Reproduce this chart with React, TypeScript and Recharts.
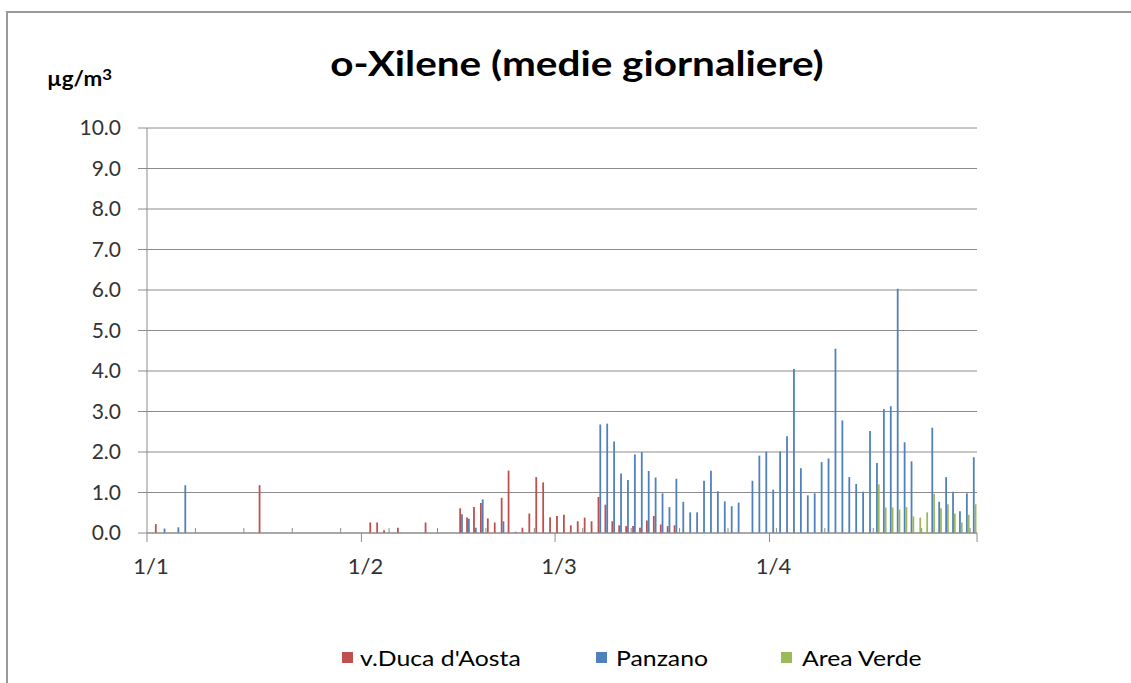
import React from "react";
import { BarChart, Bar, XAxis, YAxis, CartesianGrid } from "recharts";

// giorni dal 1 gennaio (0) al 30 aprile (119)
const days = Array.from({ length: 120 }, (_, i) => i);
const monthStarts = [0, 31, 59, 90];
const monthLabels = ["1/1", "1/2", "1/3", "1/4"];
const yTicks = [0, 1, 2, 3, 4, 5, 6, 7, 8, 9, 10];

// medie giornaliere, chiave = giorno
const ducaAosta: Record<number, number> = {
  1: 0.22, 16: 1.18,
  32: 0.26, 33: 0.26, 34: 0.07, 36: 0.13, 40: 0.26, 45: 0.61, 46: 0.38,
  47: 0.64, 48: 0.74, 49: 0.36, 50: 0.26, 51: 0.87, 52: 1.54, 53: 0.03,
  54: 0.13, 55: 0.48, 56: 1.38, 57: 1.25, 58: 0.39,
  59: 0.42, 60: 0.45, 61: 0.19, 62: 0.29, 63: 0.38, 64: 0.29, 65: 0.89,
  66: 0.7, 67: 0.29, 68: 0.19, 69: 0.17, 70: 0.17, 71: 0.13, 72: 0.31,
  73: 0.42, 74: 0.21, 75: 0.17, 76: 0.19,
};

const panzano: Record<number, number> = {
  2: 0.11, 4: 0.14, 5: 1.18,
  45: 0.46, 46: 0.35, 47: 0.13, 48: 0.83, 51: 0.29,
  65: 2.68, 66: 2.7, 67: 2.26, 68: 1.47, 69: 1.31, 70: 1.94, 71: 2.0,
  72: 1.53, 73: 1.37, 74: 0.98, 75: 0.64, 76: 1.34, 77: 0.77, 78: 0.51,
  79: 0.51, 80: 1.29, 81: 1.54, 82: 1.03, 83: 0.78, 84: 0.66, 85: 0.75,
  87: 1.29, 88: 1.91, 89: 2.01,
  90: 1.07, 91: 2.01, 92: 2.39, 93: 4.05, 94: 1.6, 95: 0.93, 96: 0.98,
  97: 1.75, 98: 1.84, 99: 4.55, 100: 2.78, 101: 1.38, 102: 1.21, 103: 1.02,
  104: 2.52, 105: 1.73, 106: 3.06, 107: 3.13, 108: 6.03, 109: 2.24,
  110: 1.77, 113: 2.6, 114: 0.77, 115: 1.38, 116: 1.02, 117: 0.54,
  118: 0.98, 119: 1.87,
};

const areaVerde: Record<number, number> = {
  105: 1.2, 106: 0.63, 107: 0.63, 108: 0.58, 109: 0.64, 110: 0.41,
  111: 0.38, 112: 0.51, 113: 0.97, 114: 0.61, 115: 0.71, 116: 0.48,
  117: 0.26, 118: 0.45, 119: 0.71,
};

const series = [
  { key: "duca", name: "v.Duca d'Aosta", color: "#C0504D" },
  { key: "panzano", name: "Panzano", color: "#4F81BD" },
  { key: "verde", name: "Area Verde", color: "#9BBB59" },
];

const data = days.map((d) => ({
  day: d,
  duca: ducaAosta[d] ?? null,
  panzano: panzano[d] ?? null,
  verde: areaVerde[d] ?? null,
}));

const FONT = "Lato, 'Open Sans', sans-serif";
const GRAY = "#8c8c8c";
const PLOT_W = 830;
const BAND = PLOT_W / days.length;

function DayTick(props: any) {
  const { x, y, payload } = props;
  const d = payload.value as number;
  const bx = x - BAND / 2;
  const m = monthStarts.indexOf(d);
  return (
    <g>
      {m >= 0 && <line x1={bx} y1={y} x2={bx} y2={y + 9} stroke={GRAY} />}
      {m >= 0 && (
        <text x={bx + 4} y={y + 41} textAnchor="middle" fontSize={22} fill="#333" fontFamily={FONT}>
          {monthLabels[m]}
        </text>
      )}
      {m < 0 && d % 7 === 0 && <line x1={bx} y1={y - 5} x2={bx} y2={y} stroke={GRAY} />}
      {d === days.length - 1 && (
        <line x1={x + BAND / 2} y1={y} x2={x + BAND / 2} y2={y + 9} stroke={GRAY} />
      )}
    </g>
  );
}

const legendPos = [
  { sq: 342, txt: 360 },
  { sq: 596, txt: 616 },
  { sq: 781, txt: 802 },
];

export default function App() {
  return (
    <div style={{ position: "fixed", left: 0, top: 0, width: 1131, height: 683, overflow: "hidden", background: "#fff", fontFamily: FONT }}>
      <div style={{ position: "absolute", left: 6, top: 11, width: 1200, height: 800, border: "2px solid #999" }} />
      <div style={{ position: "absolute", left: 577, top: 44, transform: "translateX(-50%) scaleX(1.19)", whiteSpace: "nowrap", fontSize: 34, fontWeight: 700, lineHeight: "38px", color: "#000" }}>
        o-Xilene (medie giornaliere)
      </div>
      <div style={{ position: "absolute", left: 47, top: 66, transform: "scaleX(1.12)", transformOrigin: "left center", fontSize: 20, fontWeight: 700, lineHeight: "24px", color: "#000", whiteSpace: "nowrap" }}>
        µg/m<span style={{ fontSize: 15, position: "relative", top: -6 }}>3</span>
      </div>
      <div style={{ position: "absolute", left: 0, top: 0 }}>
        <BarChart
          width={1131}
          height={683}
          data={data}
          margin={{ top: 128, right: 154, bottom: 90, left: 47 }}
          barGap={0}
          barSize={1.8}
        >
          <CartesianGrid vertical={false} stroke={GRAY} strokeDasharray="" />
          <XAxis
            dataKey="day"
            height={60}
            interval={0}
            axisLine={{ stroke: GRAY }}
            tickLine={false}
            tickSize={0}
            tickMargin={0}
            tick={<DayTick />}
          />
          <YAxis
            width={100}
            domain={[0, 10]}
            ticks={yTicks}
            interval={0}
            tickFormatter={(v: number) => v.toFixed(1)}
            axisLine={{ stroke: GRAY }}
            tickLine={{ stroke: GRAY }}
            tickSize={9}
            tickMargin={17}
            tick={{ fontSize: 21, fill: "#333", fontFamily: FONT }}
          />
          {series.map((s) => (
            <Bar key={s.key} dataKey={s.key} name={s.name} fill={s.color} isAnimationActive={false} />
          ))}
        </BarChart>
      </div>
      {series.map((s, i) => (
        <React.Fragment key={s.key}>
          <div style={{ position: "absolute", left: legendPos[i].sq, top: 652, width: 11, height: 11, background: s.color }} />
          <div style={{ position: "absolute", left: legendPos[i].txt, top: 645, transform: "scaleX(1.18)", transformOrigin: "left center", fontSize: 21, lineHeight: "26px", color: "#000", whiteSpace: "nowrap" }}>
            {s.name}
          </div>
        </React.Fragment>
      ))}
    </div>
  );
}
